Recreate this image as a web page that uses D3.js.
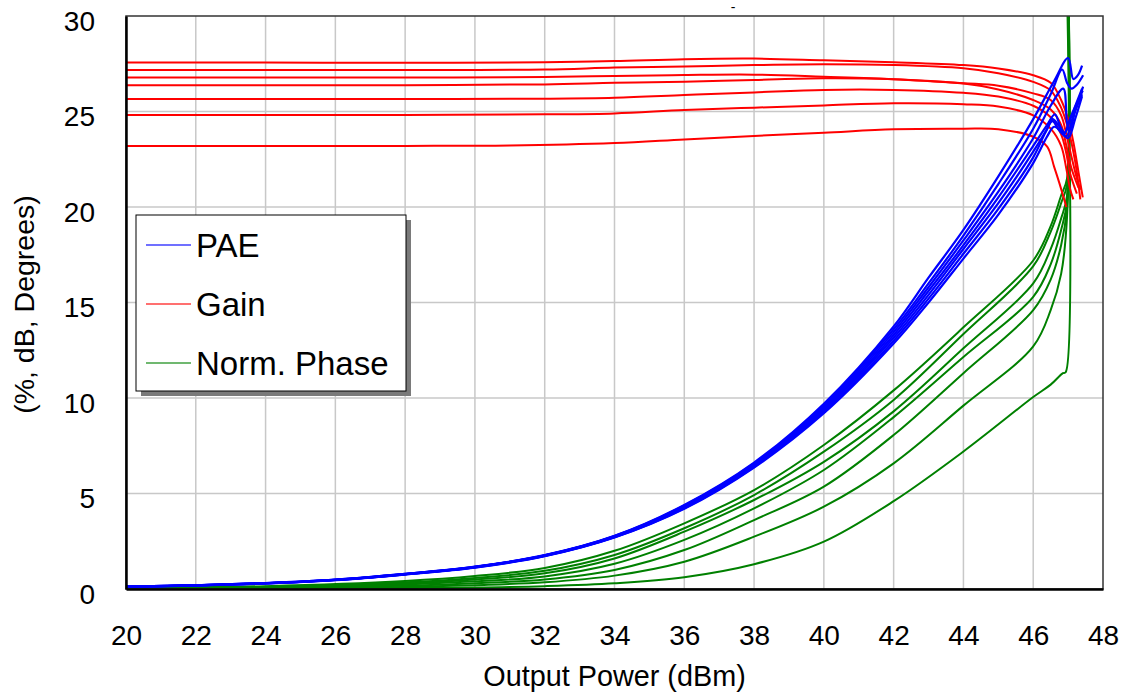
<!DOCTYPE html>
<html>
<head>
<meta charset="utf-8">
<script src="https://cdn.jsdelivr.net/npm/d3@7"></script>
<style>
  body { margin: 0; background: #fff; }
  svg { font-family: "Liberation Sans", Arial, sans-serif; }
</style>
</head>
<body>
<svg id="svg" width="1126" height="694"></svg>
<script>
// x ticks (dBm) and y ticks
const xTicks = [20, 22, 24, 26, 28, 30, 32, 34, 36, 38, 40, 42, 44, 46, 48]
const yTicks = [0, 5, 10, 15, 20, 25, 30]

// PAE (%) curves, [Pout, value]
const paeCurves = [
  [[20, 0.12], [22, 0.2], [24, 0.31], [26, 0.49], [28, 0.79], [30, 1.17], [32, 1.77], [34, 2.78], [36, 4.4], [38, 6.62], [40, 9.7], [42, 13.75], [43, 16.3], [44, 18.8], [45, 21.6], [46, 24.6], [46.6, 26.6], [47.0, 27.8], [47.15, 26.7], [47.28, 26.9], [47.4, 27.4]],
  [[20, 0.12], [22, 0.2], [24, 0.31], [26, 0.49], [28, 0.79], [30, 1.16], [32, 1.76], [34, 2.77], [36, 4.37], [38, 6.58], [40, 9.62], [42, 13.6], [43, 16.0], [44, 18.5], [45, 21.2], [46, 24.1], [46.5, 25.9], [46.83, 27.2], [46.97, 26.5], [47.1, 26.2], [47.25, 26.4], [47.43, 26.9]],
  [[20, 0.12], [22, 0.2], [24, 0.3], [26, 0.48], [28, 0.78], [30, 1.16], [32, 1.76], [34, 2.76], [36, 4.33], [38, 6.54], [40, 9.53], [42, 13.45], [43, 15.8], [44, 18.25], [45, 20.8], [46, 23.6], [46.5, 25.3], [46.86, 26.2], [46.97, 24.4], [47.05, 24.0], [47.2, 25.0], [47.43, 26.3]],
  [[20, 0.12], [22, 0.19], [24, 0.3], [26, 0.48], [28, 0.78], [30, 1.15], [32, 1.75], [34, 2.75], [36, 4.3], [38, 6.5], [40, 9.45], [42, 13.3], [43, 15.6], [44, 18.0], [45, 20.5], [46, 23.2], [46.4, 24.3], [46.62, 24.85], [46.78, 24.2], [46.9, 23.9], [47.1, 24.8], [47.4, 26.2]],
  [[20, 0.11], [22, 0.19], [24, 0.3], [26, 0.47], [28, 0.77], [30, 1.14], [32, 1.74], [34, 2.73], [36, 4.27], [38, 6.45], [40, 9.37], [42, 13.15], [43, 15.4], [44, 17.8], [45, 20.2], [46, 22.9], [46.4, 24.1], [46.55, 24.6], [46.72, 24.3], [46.88, 23.8], [47.05, 24.6], [47.42, 26.1]],
  [[20, 0.11], [22, 0.19], [24, 0.29], [26, 0.47], [28, 0.77], [30, 1.13], [32, 1.73], [34, 2.71], [36, 4.23], [38, 6.4], [40, 9.28], [42, 13.0], [43, 15.2], [44, 17.55], [45, 19.9], [46, 22.6], [46.35, 23.9], [46.55, 24.5], [46.75, 24.0], [46.95, 23.7], [47.15, 24.8], [47.4, 25.9]],
  [[20, 0.11], [22, 0.18], [24, 0.29], [26, 0.46], [28, 0.76], [30, 1.12], [32, 1.72], [34, 2.7], [36, 4.2], [38, 6.36], [40, 9.2], [42, 12.85], [43, 15.0], [44, 17.3], [45, 19.6], [46, 22.3], [46.4, 23.7], [46.6, 24.2], [46.82, 23.9], [47.0, 23.6], [47.2, 24.6], [47.4, 25.8]]
]

// Gain (dB) curves
const gainCurves = [
  [[20, 27.56], [24, 27.56], [28, 27.55], [32, 27.58], [34, 27.64], [36, 27.74], [38, 27.77], [40, 27.68], [42, 27.58], [44, 27.43], [45, 27.25], [46, 26.9], [46.5, 26.5], [46.8, 25.6], [47.0, 24.6], [47.15, 23.4], [47.3, 21.8], [47.42, 20.5]],
  [[20, 27.17], [24, 27.17], [28, 27.17], [32, 27.2], [34, 27.3], [36, 27.36], [38, 27.43], [40, 27.47], [42, 27.43], [44, 27.26], [45, 27.0], [46, 26.55], [46.5, 26.1], [46.8, 25.2], [47.0, 24.1], [47.2, 22.4], [47.35, 20.4]],
  [[20, 26.78], [24, 26.78], [28, 26.78], [32, 26.8], [34, 26.86], [36, 26.91], [38, 26.93], [40, 26.82], [42, 26.69], [44, 26.48], [45, 26.35], [46, 25.95], [46.5, 25.6], [46.8, 24.8], [46.95, 23.8], [47.1, 22.6], [47.25, 21.5], [47.35, 20.9]],
  [[20, 26.37], [24, 26.37], [28, 26.38], [32, 26.42], [34, 26.5], [36, 26.56], [38, 26.65], [40, 26.74], [42, 26.69], [44, 26.46], [45, 26.15], [46, 25.6], [46.5, 25.1], [46.8, 24.3], [46.95, 23.2], [47.1, 22.0], [47.3, 21.0]],
  [[20, 25.65], [24, 25.65], [28, 25.65], [32, 25.67], [34, 25.72], [36, 25.86], [38, 26.0], [40, 26.13], [42, 26.13], [44, 25.98], [45, 25.78], [46, 25.3], [46.5, 24.7], [46.8, 23.8], [46.95, 22.8], [47.05, 21.8], [47.25, 20.7]],
  [[20, 24.82], [24, 24.82], [28, 24.82], [32, 24.85], [34, 24.9], [36, 25.08], [38, 25.2], [40, 25.32], [42, 25.43], [44, 25.38], [45, 25.26], [46, 24.8], [46.5, 24.1], [46.8, 23.2], [46.95, 22.0], [47.05, 21.0], [47.15, 20.4]],
  [[20, 23.2], [24, 23.2], [28, 23.2], [31, 23.22], [34, 23.35], [36, 23.54], [38, 23.72], [40, 23.89], [42, 24.07], [44, 24.1], [45, 24.07], [46, 23.68], [46.4, 23.16], [46.6, 22.1], [46.75, 21.25], [46.95, 20.0]]
]

// Normalized phase (degrees) curves
const phaseCurves = [
  [[20, 0.05], [24, 0.15], [28, 0.42], [30, 0.68], [32, 1.1], [34, 2.0], [36, 3.44], [38, 5.18], [40, 7.54], [42, 10.4], [44, 13.7], [46, 17.2], [46.5, 19.0], [46.8, 20.6], [46.97, 21.5], [47.0, 32]],
  [[20, 0.04], [24, 0.12], [28, 0.35], [30, 0.58], [32, 0.95], [34, 1.78], [36, 3.18], [38, 4.92], [40, 7.19], [42, 9.9], [44, 13.35], [46, 16.9], [46.5, 18.7], [46.8, 20.2], [46.97, 21.2], [47.0, 32]],
  [[20, 0.04], [24, 0.1], [28, 0.29], [30, 0.5], [32, 0.82], [34, 1.6], [36, 3.0], [38, 4.66], [40, 6.66], [42, 9.3], [44, 12.6], [46, 16.0], [46.5, 17.8], [46.8, 19.4], [46.97, 20.6], [47.0, 32]],
  [[20, 0.03], [24, 0.08], [28, 0.23], [30, 0.4], [32, 0.66], [34, 1.32], [36, 2.57], [38, 4.22], [40, 6.23], [42, 9.0], [44, 12.15], [46, 15.3], [46.5, 17.0], [46.8, 18.8], [46.97, 20.3], [47.0, 32]],
  [[20, 0.03], [24, 0.06], [28, 0.17], [30, 0.3], [32, 0.5], [34, 1.0], [36, 2.04], [38, 3.61], [40, 5.36], [42, 8.06], [44, 11.3], [46, 14.6], [46.5, 16.2], [46.8, 18.0], [46.97, 20.0], [47.0, 32]],
  [[20, 0.02], [24, 0.04], [28, 0.11], [30, 0.2], [32, 0.35], [34, 0.7], [36, 1.43], [38, 2.74], [40, 4.31], [42, 6.58], [44, 9.6], [46, 12.7], [46.5, 14.6], [46.8, 16.5], [46.97, 19.5], [47.0, 32]],
  [[20, 0.01], [24, 0.02], [28, 0.05], [30, 0.08], [32, 0.15], [34, 0.3], [36, 0.62], [38, 1.3], [40, 2.48], [42, 4.6], [44, 7.2], [46, 10.05], [46.5, 10.7], [46.85, 11.3], [46.93, 11.35], [46.96, 32]]
]

const legendItems = [
  { name: 'PAE', color: '#0000ff' },
  { name: 'Gain', color: '#ff0000' },
  { name: 'Norm. Phase', color: '#008000' }
]

const width = 1126
const height = 694
const margin = { top: 16, right: 23, bottom: 105, left: 126 }
const innerW = width - margin.left - margin.right
const innerH = height - margin.top - margin.bottom

const svg = d3.select('#svg')

const xScale = d3.scaleLinear().domain([20, 48]).range([margin.left, margin.left + innerW])
const yScale = d3.scaleLinear().domain([0, 30]).range([margin.top + innerH, margin.top])

svg.append('defs').append('clipPath').attr('id', 'plot-clip')
  .append('rect')
  .attr('x', margin.left).attr('y', margin.top)
  .attr('width', innerW).attr('height', innerH)

// grid
const grid = svg.append('g')
grid.selectAll('.vgrid').data(xTicks.slice(1, -1)).join('line')
  .attr('x1', d => xScale(d)).attr('x2', d => xScale(d))
  .attr('y1', margin.top).attr('y2', margin.top + innerH)
  .attr('stroke', '#c8c8c8').attr('stroke-width', 1.5)
grid.selectAll('.hgrid').data(yTicks.slice(1, -1)).join('line')
  .attr('x1', margin.left).attr('x2', margin.left + innerW)
  .attr('y1', d => yScale(d)).attr('y2', d => yScale(d))
  .attr('stroke', '#c8c8c8').attr('stroke-width', 1.5)

const lineGen = d3.line()
  .x(d => xScale(d[0]))
  .y(d => yScale(d[1]))
  .curve(d3.curveCatmullRom.alpha(0.5))

const plot = svg.append('g').attr('clip-path', 'url(#plot-clip)')

plot.selectAll('.phase').data(phaseCurves).join('path')
  .attr('d', lineGen)
  .attr('fill', 'none')
  .attr('stroke', '#008000')
  .attr('stroke-width', 2)

plot.selectAll('.gain').data(gainCurves).join('path')
  .attr('d', lineGen)
  .attr('fill', 'none')
  .attr('stroke', '#ff0000')
  .attr('stroke-width', 2)

plot.selectAll('.pae').data(paeCurves).join('path')
  .attr('d', lineGen)
  .attr('fill', 'none')
  .attr('stroke', '#0000ff')
  .attr('stroke-width', 2.2)

// frame
svg.append('rect')
  .attr('x', margin.left).attr('y', margin.top)
  .attr('width', innerW).attr('height', innerH)
  .attr('fill', 'none').attr('stroke', '#333').attr('stroke-width', 1.5)

// axes
const xAxis = d3.axisBottom(xScale).tickValues(xTicks).tickSize(0).tickPadding(36)
const yAxis = d3.axisLeft(yScale).tickValues(yTicks).tickSize(0).tickPadding(31)

const gx = svg.append('g')
  .attr('transform', `translate(0, ${margin.top + innerH})`)
  .call(xAxis)
gx.select('.domain').attr('stroke', '#000').attr('stroke-width', 2.5)
gx.selectAll('text').attr('font-size', 28).attr('fill', '#000')
  .attr('font-family', '"Liberation Sans", Arial, sans-serif')

const gy = svg.append('g')
  .attr('transform', `translate(${margin.left}, 0)`)
  .call(yAxis)
gy.select('.domain').attr('stroke', '#000').attr('stroke-width', 2.5)
gy.selectAll('text').attr('font-size', 28).attr('fill', '#000').attr('dy', '0.5em')
  .attr('font-family', '"Liberation Sans", Arial, sans-serif')

svg.append('text')
  .attr('x', margin.left + innerW / 2).attr('y', 686)
  .attr('text-anchor', 'middle')
  .attr('font-size', 28.8)
  .text('Output Power (dBm)')

svg.append('text')
  .attr('transform', `translate(34, ${margin.top + innerH / 2 + 2}) rotate(-90)`)
  .attr('text-anchor', 'middle')
  .attr('font-size', 28.5)
  .text('(%, dB, Degrees)')

// remnant mark above plot
svg.append('text')
  .attr('x', 733).attr('y', 12)
  .attr('text-anchor', 'middle')
  .attr('font-size', 14)
  .text('-')

// legend
const legend = svg.append('g').attr('transform', 'translate(136, 215)')
legend.append('rect')
  .attr('x', 5).attr('y', 5).attr('width', 270).attr('height', 176)
  .attr('fill', '#7a7a7a')
legend.append('rect')
  .attr('width', 270).attr('height', 176)
  .attr('fill', '#fff').attr('stroke', '#000').attr('stroke-width', 1)

const items = legend.selectAll('.item').data(legendItems).join('g')
  .attr('transform', (d, i) => `translate(0, ${30 + i * 59})`)
items.append('line')
  .attr('x1', 10).attr('x2', 55)
  .attr('stroke', d => d.color).attr('stroke-width', 1.3).attr('stroke-opacity', 0.75)
items.append('text')
  .attr('x', 60).attr('dy', '0.36em')
  .attr('font-size', 33)
  .text(d => d.name)
</script>
</body>
</html>
